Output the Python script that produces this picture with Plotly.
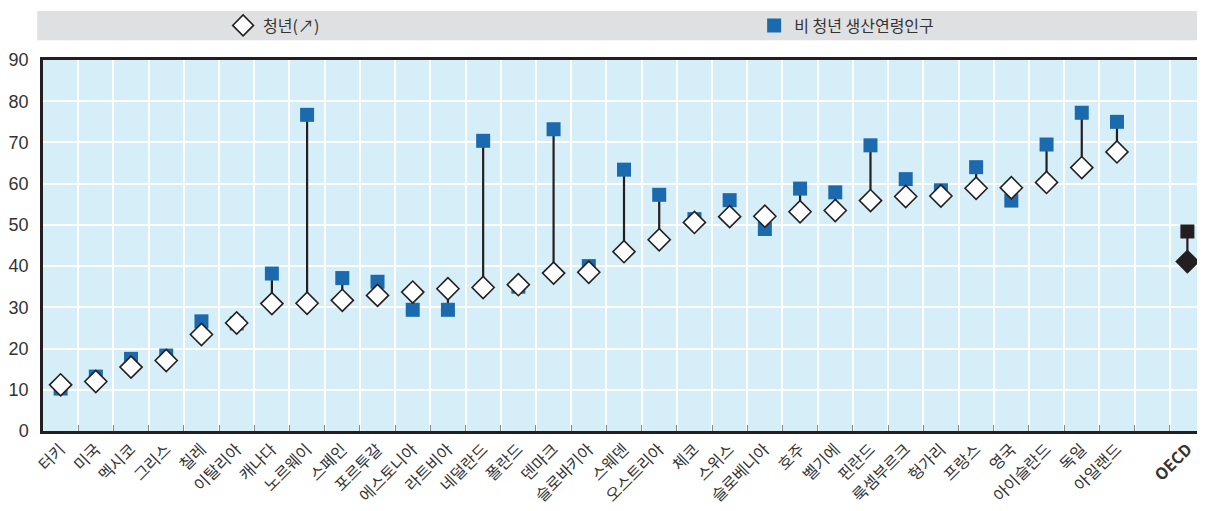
import plotly.graph_objects as go

countries = ["터키", "미국", "멕시코", "그리스", "칠레", "이탈리아", "캐나다", "노르웨이",
             "스페인", "포르투갈", "에스토니아", "라트비아", "네덜란드", "폴란드", "덴마크",
             "슬로바키아", "스웨덴", "오스트리아", "체코", "스위스", "슬로베니아", "호주",
             "벨기에", "핀란드", "룩셈부르크", "헝가리", "프랑스", "영국", "아이슬란드",
             "독일", "아일랜드"]
youth = [11.2, 12.0, 15.5, 17.1, 23.4, 26.2, 30.9, 31.0, 31.7, 32.9, 33.7, 34.5, 34.8,
         35.5, 38.3, 38.5, 43.5, 46.4, 50.6, 52.0, 52.1, 53.2, 53.5, 55.9, 56.9, 57.0,
         58.9, 59.0, 60.3, 63.9, 67.7]
non_youth = [10.3, 13.2, 17.5, 18.3, 26.6, 26.1, 38.2, 76.7, 37.1, 36.2, 29.4, 29.4,
             70.4, 35.0, 73.2, 40.0, 63.4, 57.3, 51.4, 56.0, 49.0, 58.8, 57.9, 69.3,
             61.1, 58.4, 64.0, 55.9, 69.5, 77.2, 75.0]
oecd_label = "OECD"
oecd_youth = 41.1
oecd_non_youth = 48.4

gap = " "
cats = countries + [gap, oecd_label]
ticktext = countries + ["", "<b>OECD</b>"]

blue = "#1b6aad"
dark = "#231f20"
font_family = "Liberation Sans, Arial, Noto Sans CJK KR, sans-serif"
kfont = "Noto Sans CJK KR, Liberation Sans, sans-serif"

# connector lines between the two markers of each country
lx, ly = [], []
for c, a, b in zip(countries + [oecd_label], youth + [oecd_youth], non_youth + [oecd_non_youth]):
    lx += [c, c, None]
    ly += [a, b, None]

fig = go.Figure()
fig.add_trace(go.Scatter(x=lx, y=ly, mode="lines", line=dict(color=dark, width=2.2),
                         showlegend=False, hoverinfo="skip"))
fig.add_trace(go.Scatter(x=countries, y=non_youth, mode="markers", name="비 청년 생산연령인구",
                         marker=dict(symbol="square", size=14, color=blue),
                         legend="legend2"))
fig.add_trace(go.Scatter(x=countries, y=youth, mode="markers", name="청년(↗)",
                         marker=dict(symbol="diamond", size=17, color="white",
                                     line=dict(color=dark, width=1.6)),
                         legend="legend"))
fig.add_trace(go.Scatter(x=[oecd_label], y=[oecd_non_youth], mode="markers", showlegend=False,
                         marker=dict(symbol="square", size=14, color=dark)))
fig.add_trace(go.Scatter(x=[oecd_label], y=[oecd_youth], mode="markers", showlegend=False,
                         marker=dict(symbol="diamond", size=17, color=dark,
                                     line=dict(color=dark, width=1.6))))

fig.add_shape(type="rect", xref="paper", yref="paper", x0=-0.005, x1=1.0, y0=1.053, y1=1.132,
              fillcolor="#dfe0e2", line=dict(width=0), layer="below")

# page body has an 8px margin, so the figure is drawn 8px smaller and offset
fig.update_layout(
    width=1197, height=503,
    margin=dict(l=35, r=0, t=45, b=80),
    paper_bgcolor="white",
    plot_bgcolor="#d5eef7",
    font=dict(family=kfont, size=15, color="#333333"),
    legend=dict(x=0.155, y=1.093, xanchor="left", yanchor="middle", orientation="h",
                bgcolor="rgba(0,0,0,0)", font=dict(size=16, family=kfont, color="#333333")),
    legend2=dict(x=0.612, y=1.093, xanchor="left", yanchor="middle", orientation="h",
                 bgcolor="rgba(0,0,0,0)", font=dict(size=16, family=kfont, color="#333333")),
    xaxis=dict(
        type="category", categoryorder="array", categoryarray=cats,
        tickmode="array", tickvals=cats, ticktext=ticktext,
        tickangle=-45, tickson="boundaries", ticks="inside", ticklen=6,
        tickcolor="#888888", tickfont=dict(size=16, family=kfont, color="#333333"),
        showgrid=True, gridcolor="white", gridwidth=2,
        showline=True, linecolor=dark, linewidth=2.5, mirror=True,
        range=[-0.5, len(cats) - 0.5],
    ),
    yaxis=dict(
        range=[0, 90], dtick=10, showgrid=True, gridcolor="white", gridwidth=2,
        showline=True, linecolor=dark, linewidth=2.5, ticks="", zeroline=False,
        ticklabelstandoff=8,
        tickfont=dict(size=18, family=font_family, color="#333333"),
    ),
)

fig.write_html("out.html")
